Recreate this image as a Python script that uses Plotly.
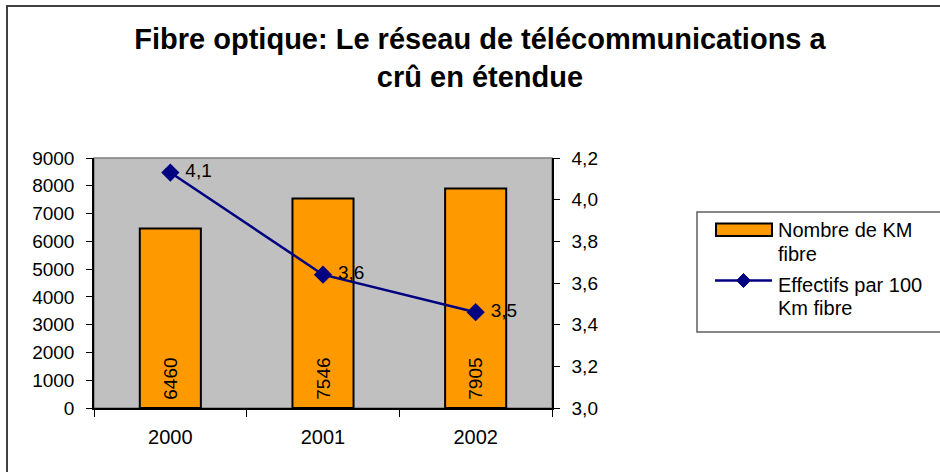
import plotly.graph_objects as go

years = ["2000", "2001", "2002"]
km_fibre = [6460, 7546, 7905]
effectifs = [4.13, 3.64, 3.46]
title_text = "Fibre optique: Le réseau de télécommunications a<br>crû en étendue"
legend_bar = ["Nombre de KM", "fibre"]
legend_line = ["Effectifs par 100", "Km fibre"]

FONT = "Liberation Sans, Arial, sans-serif"
ORANGE = "#FF9900"
NAVY = "#000080"

# plot area in pixels
L, R, T, B = 94, 552, 158, 408
W, H = R - L, B - T


def px(x):
    return (x - L) / W


def py(y):
    return (B - y) / H


fig = go.Figure()
fig.add_trace(go.Bar(
    x=years, y=km_fibre, width=0.4,
    marker=dict(color=ORANGE, line=dict(color="black", width=2)),
    texttemplate=" %{y}", textposition="inside",
    insidetextanchor="start", textangle=-90,
    textfont=dict(family=FONT, size=19, color="black"),
    name=" ".join(legend_bar), yaxis="y",
))
fig.add_trace(go.Scatter(
    x=years, y=effectifs, mode="lines+markers+text",
    line=dict(color=NAVY, width=2.5),
    marker=dict(symbol="diamond", size=14, color=NAVY),
    texttemplate=" %{y:.1f}", textposition="middle right",
    textfont=dict(family=FONT, size=19, color="black"),
    cliponaxis=False, name=" ".join(legend_line), yaxis="y2",
))

shapes = [
    # outer chart border
    dict(type="rect", xref="paper", yref="paper", x0=px(7), x1=px(960),
         y0=py(500), y1=py(6), line=dict(color="#404040", width=2), layer="below"),
    # plot area border (grey)
    dict(type="rect", xref="paper", yref="paper", x0=0, x1=1, y0=0, y1=1,
         line=dict(color="#808080", width=1.5), layer="below"),
    # legend box
    dict(type="rect", xref="paper", yref="paper", x0=px(697), x1=px(960),
         y0=py(332), y1=py(212), line=dict(color="#606060", width=1.5)),
    # legend bar swatch
    dict(type="rect", xref="paper", yref="paper", x0=px(716), x1=px(772),
         y0=py(236), y1=py(223.5), fillcolor=ORANGE, line=dict(color="black", width=2)),
    # legend line
    dict(type="line", xref="paper", yref="paper", x0=px(715), x1=px(772),
         y0=py(280.5), y1=py(280.5), line=dict(color=NAVY, width=2.5)),
    # legend diamond
    dict(type="path", xref="paper", yref="paper",
         path=f"M {px(743.5)} {py(273.5)} L {px(750.5)} {py(280.5)} L {px(743.5)} {py(287.5)} L {px(736.5)} {py(280.5)} Z",
         fillcolor=NAVY, line=dict(color=NAVY, width=1)),
]

annotations = []
for txt, yc in [(legend_bar[0], 230), (legend_bar[1], 254), (legend_line[0], 285), (legend_line[1], 308)]:
    annotations.append(dict(xref="paper", yref="paper", x=px(776), y=py(yc),
                            xanchor="left", yanchor="middle", text=txt, showarrow=False,
                            font=dict(family=FONT, size=20, color="black")))

fig.update_layout(
    width=940, height=472, autosize=False,
    margin=dict(l=L, r=940 - R, t=T, b=472 - B, pad=0),
    paper_bgcolor="white", plot_bgcolor="#C0C0C0",
    separators=", ",
    showlegend=False,
    bargap=0.6,
    title=dict(text=title_text, x=480 / 940, xanchor="center",
               y=1 - 49 / 472, yanchor="top", yref="container",
               font=dict(family=FONT, size=29, color="black", weight="bold")),
    xaxis=dict(type="category", range=[-0.5, 2.5], tickson="boundaries",
               ticks="outside", ticklen=7, tickcolor="black", showline=True,
               linecolor="black", linewidth=1.5, showgrid=False,
               ticklabelstandoff=10,
               tickfont=dict(family=FONT, size=20, color="black")),
    yaxis=dict(range=[0, 9000], dtick=1000, tick0=0, ticks="outside", ticklen=6,
               tickcolor="black", showline=True, linecolor="black", linewidth=1.5,
               showgrid=False, zeroline=False, ticklabelstandoff=8,
               tickfont=dict(family=FONT, size=19, color="black")),
    yaxis2=dict(range=[3.0, 4.2], dtick=0.2, tick0=3.0, tickformat=".1f",
                overlaying="y", side="right", ticks="outside", ticklen=6,
                tickcolor="black", showline=True, linecolor="black", linewidth=1.5,
                showgrid=False, zeroline=False, ticklabelstandoff=8,
                tickfont=dict(family=FONT, size=19, color="black")),
    shapes=shapes,
    annotations=annotations,
)

fig.write_html("out.html", config={"displayModeBar": False},
               post_script="document.body.style.margin='0';document.body.style.overflow='hidden';")
